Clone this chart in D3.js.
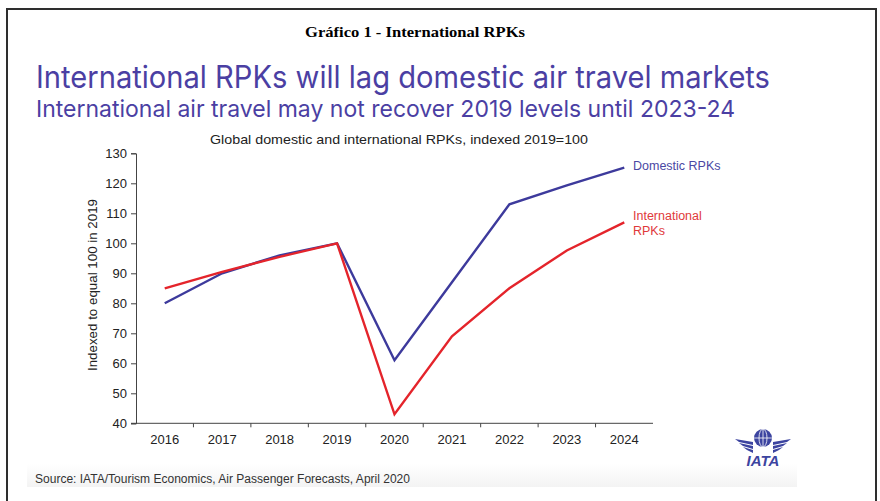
<!DOCTYPE html>
<html>
<head>
<meta charset="utf-8">
<script src="https://cdn.jsdelivr.net/npm/d3@7"></script>
<style>
  body { margin: 0; background: #fff; }
  svg { display: block; }
</style>
</head>
<body>
<svg id="chart" width="880" height="501"></svg>
<script>
// data
const years = ['2016', '2017', '2018', '2019', '2020', '2021', '2022', '2023', '2024'];
const domestic = [80, 90, 96, 100, 61, 87, 113, 119.3, 125.2];
const international = [85, 90.5, 95.5, 100, 43, 69, 85, 97.6, 107];
const yTicks = [40, 50, 60, 70, 80, 90, 100, 110, 120, 130];

const blue = '#3d3a9c';
const red = '#e4242b';

const svg = d3.select('#chart');

// frame
svg.append('path')
  .attr('d', 'M7,501 L7,9 L876,9 L876,501')
  .attr('fill', 'none')
  .attr('stroke', '#2e2e2e')
  .attr('stroke-width', 2);

// heading
svg.append('text')
  .attr('x', 415).attr('y', 37)
  .attr('text-anchor', 'middle')
  .attr('font-family', 'Liberation Serif, serif')
  .attr('font-weight', 'bold')
  .attr('font-size', 14)
  .attr('textLength', 220).attr('lengthAdjust', 'spacingAndGlyphs')
  .text('Gráfico 1 - International RPKs');

svg.append('text')
  .attr('x', 36).attr('y', 88)
  .attr('font-family', 'Inter, sans-serif')
  .attr('font-size', 31)
  .attr('fill', '#4b3fa3')
  .attr('textLength', 734).attr('lengthAdjust', 'spacingAndGlyphs')
  .text('International RPKs will lag domestic air travel markets');

svg.append('text')
  .attr('x', 36).attr('y', 117)
  .attr('font-family', 'Inter, sans-serif')
  .attr('font-size', 23.5)
  .attr('fill', '#4b3fa3')
  .attr('textLength', 699).attr('lengthAdjust', 'spacingAndGlyphs')
  .text('International air travel may not recover 2019 levels until 2023-24');

svg.append('text')
  .attr('x', 399).attr('y', 144)
  .attr('text-anchor', 'middle')
  .attr('font-family', 'Liberation Sans, Arial, sans-serif')
  .attr('font-size', 13.5)
  .attr('fill', '#222')
  .attr('textLength', 378).attr('lengthAdjust', 'spacingAndGlyphs')
  .text('Global domestic and international RPKs, indexed 2019=100');

// scales
const x = d3.scaleBand().domain(years).range([136, 653]);
const y = d3.scaleLinear().domain([40, 130]).range([423.3, 153.3]);
const cx = d => x(d) + x.bandwidth() / 2;

const axisColor = '#444';

// y axis
const yAxis = svg.append('g')
  .attr('transform', 'translate(136,0)')
  .call(d3.axisLeft(y).tickValues(yTicks).tickSize(5).tickPadding(4));
yAxis.select('.domain').attr('stroke', axisColor);
yAxis.selectAll('.tick line').attr('stroke', axisColor);
yAxis.selectAll('.tick text')
  .attr('font-family', 'Liberation Sans, Arial, sans-serif')
  .attr('font-size', 13)
  .attr('fill', '#222');

// x axis
const xAxis = svg.append('g')
  .attr('transform', 'translate(0,423.3)')
  .call(d3.axisBottom(x).tickSize(0).tickPadding(11));
xAxis.select('.domain').attr('stroke', axisColor).attr('d', 'M131,0H653');
xAxis.selectAll('.tick text')
  .attr('font-family', 'Liberation Sans, Arial, sans-serif')
  .attr('font-size', 13)
  .attr('fill', '#222');
// ticks between the categories
xAxis.selectAll('.sep')
  .data(years.slice(1))
  .enter().append('line')
  .attr('class', 'sep')
  .attr('x1', d => x(d)).attr('x2', d => x(d))
  .attr('y1', 0).attr('y2', 4)
  .attr('stroke', axisColor);

// y axis title
svg.append('text')
  .attr('transform', 'translate(97,285) rotate(-90)')
  .attr('text-anchor', 'middle')
  .attr('font-family', 'Liberation Sans, Arial, sans-serif')
  .attr('font-size', 12.5)
  .attr('fill', '#222')
  .attr('textLength', 172).attr('lengthAdjust', 'spacingAndGlyphs')
  .text('Indexed to equal 100 in 2019');

// lines
const line = d3.line()
  .x((d, i) => cx(years[i]))
  .y(d => y(d));

svg.append('path')
  .datum(domestic)
  .attr('d', line)
  .attr('fill', 'none')
  .attr('stroke', blue)
  .attr('stroke-width', 2.4);

svg.append('path')
  .datum(international)
  .attr('d', line)
  .attr('fill', 'none')
  .attr('stroke', red)
  .attr('stroke-width', 2.4);

// line labels
svg.append('text')
  .attr('x', 633).attr('y', 170)
  .attr('font-family', 'Liberation Sans, Arial, sans-serif')
  .attr('font-size', 12.5)
  .attr('fill', '#4a47a3')
  .text('Domestic RPKs');

const intl = svg.append('text')
  .attr('font-family', 'Liberation Sans, Arial, sans-serif')
  .attr('font-size', 12.5)
  .attr('fill', '#e0393b');
intl.append('tspan').attr('x', 633).attr('y', 220).text('International');
intl.append('tspan').attr('x', 633).attr('y', 235).text('RPKs');

// light band behind the source
const grad = svg.append('defs').append('linearGradient')
  .attr('id', 'srcband').attr('x1', 0).attr('x2', 0).attr('y1', 0).attr('y2', 1);
grad.append('stop').attr('offset', '0%').attr('stop-color', '#ffffff');
grad.append('stop').attr('offset', '100%').attr('stop-color', '#f3f3f3');
svg.append('rect')
  .attr('x', 27).attr('y', 463).attr('width', 770).attr('height', 24)
  .attr('fill', 'url(#srcband)');

svg.append('text')
  .attr('x', 35).attr('y', 483)
  .attr('font-family', 'Liberation Sans, Arial, sans-serif')
  .attr('font-size', 12.5)
  .attr('fill', '#333')
  .attr('textLength', 375).attr('lengthAdjust', 'spacingAndGlyphs')
  .text('Source: IATA/Tourism Economics, Air Passenger Forecasts, April 2020');

// IATA logo
const logo = svg.append('g').attr('transform', 'translate(763,448)');
const logoBlue = '#3c44a0';
logo.append('circle').attr('cx', 0).attr('cy', -10).attr('r', 9).attr('fill', logoBlue);
logo.append('ellipse').attr('cx', 0).attr('cy', -10).attr('rx', 4).attr('ry', 9)
  .attr('fill', 'none').attr('stroke', '#fff').attr('stroke-width', 0.8);
logo.append('line').attr('x1', -9).attr('x2', 9).attr('y1', -10).attr('y2', -10)
  .attr('stroke', '#fff').attr('stroke-width', 0.8);
logo.append('line').attr('x1', 0).attr('x2', 0).attr('y1', -19).attr('y2', -1)
  .attr('stroke', '#fff').attr('stroke-width', 0.8);
// wings
[-1, 1].forEach(s => {
  [0, 4, 8].forEach(k => {
    logo.append('path')
      .attr('d', `M${s * 10},${-6 + k} L${s * (28 - k)},${-9 + k} L${s * (24 - k)},${-6 + k} L${s * 10},${-3 + k} Z`)
      .attr('fill', logoBlue);
  });
});
logo.append('text')
  .attr('x', 0).attr('y', 18)
  .attr('text-anchor', 'middle')
  .attr('font-family', 'Liberation Sans, Arial, sans-serif')
  .attr('font-weight', 'bold')
  .attr('font-style', 'italic')
  .attr('font-size', 15)
  .attr('fill', logoBlue)
  .text('IATA');
</script>
</body>
</html>
